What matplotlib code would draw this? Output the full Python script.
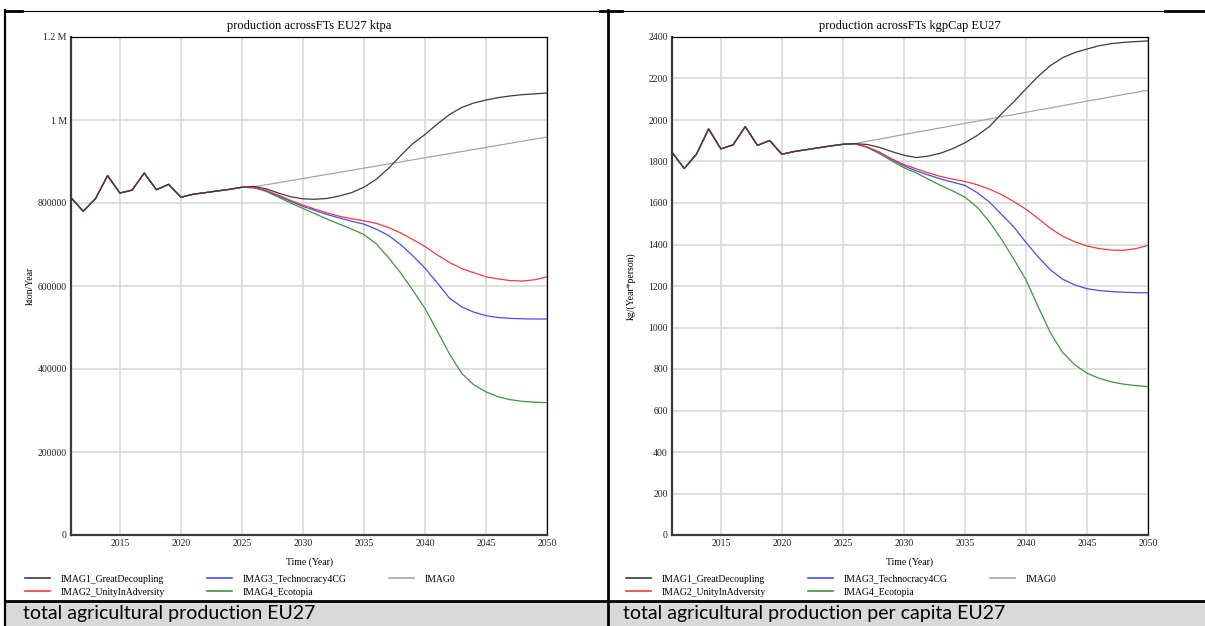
import matplotlib
matplotlib.use("Agg")
import matplotlib.pyplot as plt
from matplotlib.lines import Line2D
from matplotlib.patches import Rectangle
from matplotlib.ticker import FuncFormatter, MultipleLocator


W, H = 1205, 626

# years of the run
years = list(range(2011, 2051))

# total production, ktpa (history shared by all scenarios, 2011-2025)
prod_hist = [813000, 780000, 810000, 866000, 824000, 831000, 872000, 832000, 845000,
             814000, 821000, 825000, 829000, 833000, 838000]
# 2026-2050
prod_imag1 = [840000, 834000, 824000, 815000, 810000, 809000, 811000, 817000, 825000, 838000,
              857000, 883000, 914000, 943000, 965000, 990000, 1013000, 1030000, 1041000, 1048000,
              1054000, 1058000, 1061000, 1063000, 1065000]
prod_imag2 = [837000, 830000, 819000, 806000, 795000, 785000, 776000, 768000, 762000, 757000,
              751000, 741000, 728000, 712000, 695000, 675000, 657000, 642000, 632000, 622000,
              617000, 613000, 612000, 615000, 622000]
prod_imag3 = [837000, 829000, 817000, 804000, 792000, 782000, 772000, 764000, 756000, 749000,
              737000, 722000, 700000, 673000, 643000, 608000, 571000, 550000, 537000, 528500,
              524000, 522000, 521000, 520500, 520500]
prod_imag4 = [837000, 828000, 814000, 800000, 787000, 774000, 761000, 749000, 737000, 724000,
              702000, 669000, 632000, 590000, 546000, 492000, 437000, 390000, 362000, 345000,
              333000, 326000, 322000, 320000, 319000]
prod_imag0 = [839000, 844000, 849000, 854000, 859000, 864000, 869000, 874000, 879000, 884000,
              889000, 894000, 899000, 904000, 909000, 914000, 919000, 924000, 929000, 934000,
              939000, 944000, 949000, 954000, 959000]

# production per capita, kg/(Year*person)
cap_hist = [1845, 1766, 1835, 1957, 1861, 1880, 1968, 1878, 1901, 1835, 1848, 1857, 1866,
            1875, 1883]
cap_imag1 = [1886, 1882, 1868, 1848, 1830, 1819, 1826, 1840, 1862, 1890, 1925, 1968, 2030,
             2088, 2150, 2210, 2262, 2300, 2325, 2342, 2358, 2368, 2374, 2378, 2381]
cap_imag2 = [1886, 1870, 1845, 1813, 1785, 1765, 1745, 1728, 1715, 1704, 1688, 1667, 1640,
             1607, 1570, 1525, 1478, 1440, 1413, 1393, 1380, 1373, 1372, 1380, 1396]
cap_imag3 = [1886, 1869, 1843, 1810, 1779, 1755, 1735, 1716, 1700, 1685, 1650, 1605, 1545,
             1485, 1410, 1340, 1278, 1233, 1205, 1187, 1178, 1173, 1170, 1168, 1167]
cap_imag4 = [1886, 1867, 1838, 1803, 1770, 1745, 1715, 1685, 1658, 1628, 1580, 1510, 1425,
             1330, 1230, 1100, 975, 880, 820, 780, 755, 738, 727, 720, 715]
cap_imag0 = [1887, 1898, 1908, 1919, 1930, 1941, 1951, 1962, 1973, 1984, 1994, 2005, 2016,
             2026, 2037, 2048, 2058, 2069, 2080, 2091, 2101, 2112, 2123, 2133, 2144]

names = ["IMAG1_GreatDecoupling", "IMAG2_UnityInAdversity", "IMAG3_Technocracy4CG",
         "IMAG4_Ecotopia", "IMAG0"]
colors = ["#3c3c3c", "#f03c3c", "#4b4bf0", "#3c963c", "#a6a6a6"]

SERIF = "Liberation Serif"


def fx(x):
    return x / W


def fy(y):
    return 1 - y / H


def fmt_prod(v, pos):
    if v >= 1e6:
        return "%g M" % (v / 1e6)
    return "%d" % v


def draw_chart(fig, left_px, title, ylabel, hist, futures, ymax, ystep, yfmt):
    ax = fig.add_axes([fx(left_px), fy(535), 476 / W, 498 / H])
    # draw IMAG0 first and IMAG1 last so the black history sits on top
    order = [4, 3, 2, 1, 0]
    lines = {}
    for i in order:
        vals = hist + futures[i]
        lines[i], = ax.plot(years, vals, color=colors[i], lw=0.9, label=names[i])

    ax.set_xlim(2011, 2050)
    ax.set_ylim(0, ymax)
    ax.xaxis.set_major_locator(MultipleLocator(5))
    ax.yaxis.set_major_locator(MultipleLocator(ystep))
    if yfmt is not None:
        ax.yaxis.set_major_formatter(FuncFormatter(yfmt))
    ax.grid(True, color="#d6d6d6", lw=1.1)
    ax.set_axisbelow(True)
    ax.tick_params(length=0, pad=3, labelsize=7, labelcolor="#222222")
    for lab in ax.get_xticklabels() + ax.get_yticklabels():
        lab.set_fontfamily(SERIF)

    for s in ["left", "bottom"]:
        ax.spines[s].set_linewidth(1.6)
        ax.spines[s].set_color("#3a3a3a")
    for s in ["top", "right"]:
        ax.spines[s].set_linewidth(0.9)
        ax.spines[s].set_color("black")

    ax.set_title(title, fontsize=9, family=SERIF, pad=6)
    ax.set_xlabel("Time (Year)", fontsize=7, family=SERIF, labelpad=7)
    ax.set_ylabel(ylabel, fontsize=7, family=SERIF)
    ax.yaxis.set_label_coords(-0.077, 0.5)

    handles = [lines[i] for i in range(5)]
    leg = ax.legend(handles=handles, ncol=3, loc="upper left", frameon=False,
                    bbox_to_anchor=(fx(left_px - 46), fy(574.5)), bbox_transform=fig.transFigure,
                    borderaxespad=0, borderpad=0, handlelength=2.6, handletextpad=1.1,
                    columnspacing=4.3, labelspacing=0.45, prop={"family": SERIF, "size": 7})
    for ln in leg.get_lines():
        ln.set_linewidth(1.2)
    return ax


fig = plt.figure(figsize=(W / 100, H / 100), dpi=100)

draw_chart(fig, 71, "production acrossFTs EU27 ktpa", "kton/Year", prod_hist,
           [prod_imag1, prod_imag2, prod_imag3, prod_imag4, prod_imag0], 1200000, 200000, fmt_prod)
draw_chart(fig, 672, "production acrossFTs kgpCap EU27", "kg/(Year*person)", cap_hist,
           [cap_imag1, cap_imag2, cap_imag3, cap_imag4, cap_imag0], 2400, 200, None)

# table frame and caption row
fig.add_artist(Rectangle((fx(6), 0), 1 - fx(6), fy(601), transform=fig.transFigure,
                         facecolor="#d9d9d9", edgecolor="none"))
fig.add_artist(Line2D([fx(5), 1], [fy(10.5), fy(10.5)], transform=fig.transFigure, color="black", lw=0.8))
for x0, x1 in [(5, 22), (600, 622), (1165, 1205)]:
    fig.add_artist(Line2D([fx(x0), fx(x1)], [fy(10.5), fy(10.5)], transform=fig.transFigure,
                          color="black", lw=2))
fig.add_artist(Line2D([fx(5), fx(5)], [fy(10), 0], transform=fig.transFigure, color="black", lw=1.6))
fig.add_artist(Line2D([fx(608), fx(608)], [fy(10), 0], transform=fig.transFigure, color="black", lw=2))
fig.add_artist(Line2D([fx(5), 1], [fy(600.5), fy(600.5)], transform=fig.transFigure, color="black", lw=2))

fig.text(fx(23), fy(614), "total agricultural production EU27", family="Lato", fontsize=14,
         va="center", ha="left")
fig.text(fx(623), fy(614), "total agricultural production per capita EU27", family="Lato",
         fontsize=14, va="center", ha="left")

fig.savefig("out.png", dpi=100)
